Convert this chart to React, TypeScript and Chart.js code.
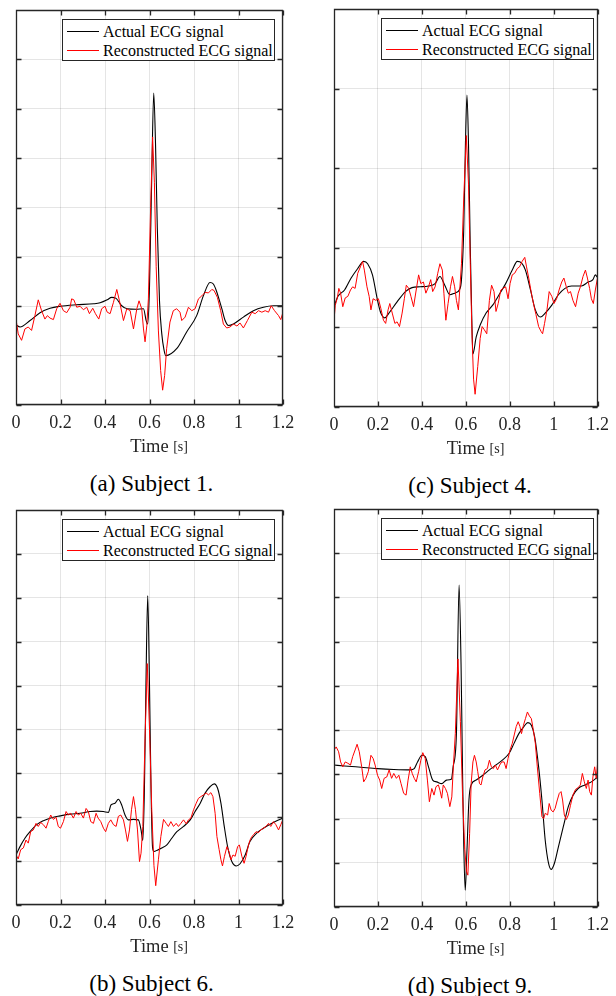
import React, { useEffect, useRef } from "react";
import { Chart, registerables } from "chart.js";

Chart.register(...registerables);

type Pt = [number, number];

const FONT = "'Liberation Serif', 'Times New Roman', Times, serif";
const AXIS_COLOR = "#262626";
const GRID_COLOR = "rgba(38,38,38,0.12)";

const X_TICKS = [0, 0.2, 0.4, 0.6, 0.8, 1, 1.2];
const X_TITLE = "Time";
const X_UNIT = "[s]";
const SERIES_LABELS = ["Actual ECG signal", "Reconstructed ECG signal"];
const CAPTIONS = ["(a) Subject 1.", "(c) Subject 4.", "(b) Subject 6.", "(d) Subject 9."];
const Y_MAX = [8, 5, 9, 9];

// Subject 1
const subject1Actual: Pt[] = [
  [0, 1.62], [0.018, 1.58], [0.063, 1.71], [0.108, 1.87], [0.153, 1.96], [0.198, 2.0], [0.27, 2.03],
  [0.35, 2.05], [0.378, 2.07], [0.41, 2.13], [0.43, 2.18], [0.45, 2.16], [0.475, 2.01], [0.5, 1.95],
  [0.54, 1.94], [0.573, 1.95], [0.585, 1.71], [0.592, 1.64], [0.6, 2.4], [0.61, 4.6], [0.619, 6.32],
  [0.627, 5.3], [0.635, 3.6], [0.645, 2.1], [0.655, 1.45], [0.665, 1.12], [0.673, 1.0], [0.722, 1.14],
  [0.767, 1.48], [0.812, 1.81], [0.842, 2.21], [0.872, 2.48], [0.887, 2.45], [0.9, 2.32], [0.925, 1.95],
  [0.94, 1.71], [0.955, 1.61], [0.977, 1.64], [1.022, 1.78], [1.067, 1.91], [1.112, 1.98], [1.157, 2.01],
  [1.2, 2.01],
];
const subject1Recon: Pt[] = [
  [0, 1.74], [0.01, 1.44], [0.025, 1.31], [0.04, 1.54], [0.055, 1.58], [0.07, 1.51], [0.085, 1.81],
  [0.1, 2.13], [0.115, 1.91], [0.13, 1.74], [0.141, 1.81], [0.153, 1.76], [0.168, 1.73], [0.183, 1.95],
  [0.198, 2.06], [0.213, 1.91], [0.228, 1.87], [0.243, 1.98], [0.25, 2.15], [0.26, 2.13], [0.273, 1.98],
  [0.288, 2.0], [0.303, 1.93], [0.318, 1.98], [0.33, 1.85], [0.345, 1.96], [0.357, 1.85], [0.372, 1.74],
  [0.385, 1.95], [0.4, 2.0], [0.41, 1.88], [0.423, 1.85], [0.438, 2.08], [0.453, 2.34], [0.465, 2.11],
  [0.483, 1.71], [0.498, 1.95], [0.513, 1.91], [0.528, 1.54], [0.543, 1.95], [0.553, 2.11], [0.565, 1.95],
  [0.573, 1.54], [0.58, 1.28], [0.588, 1.61], [0.595, 2.15], [0.605, 4.0], [0.614, 5.43], [0.622, 4.5],
  [0.63, 2.8], [0.64, 1.5], [0.65, 0.7], [0.659, 0.3], [0.668, 0.6], [0.677, 1.14], [0.692, 1.68],
  [0.707, 1.91], [0.722, 1.95], [0.737, 1.88], [0.745, 1.71], [0.76, 1.78], [0.775, 1.98], [0.79, 1.91],
  [0.805, 1.95], [0.82, 2.15], [0.835, 2.21], [0.85, 2.28], [0.865, 2.27], [0.88, 2.34], [0.89, 2.32],
  [0.905, 2.18], [0.92, 1.91], [0.932, 1.64], [0.947, 1.56], [0.962, 1.58], [0.977, 1.64], [0.993, 1.6],
  [1.007, 1.66], [1.022, 1.56], [1.04, 1.71], [1.06, 1.88], [1.075, 1.85], [1.09, 1.91], [1.105, 1.88],
  [1.12, 1.91], [1.135, 1.88], [1.147, 2.01], [1.162, 1.91], [1.18, 1.81], [1.19, 1.73], [1.2, 1.88],
];

// Subject 4
const subject4Actual: Pt[] = [
  [0, 1.26], [0.018, 1.39], [0.048, 1.47], [0.078, 1.62], [0.108, 1.74], [0.135, 1.83], [0.153, 1.8],
  [0.175, 1.66], [0.198, 1.34], [0.213, 1.18], [0.231, 1.12], [0.25, 1.18], [0.287, 1.32], [0.325, 1.45],
  [0.355, 1.5], [0.392, 1.51], [0.43, 1.52], [0.46, 1.55], [0.482, 1.64], [0.504, 1.53], [0.527, 1.41],
  [0.549, 1.43], [0.572, 1.48], [0.58, 1.6], [0.59, 2.2], [0.598, 3.3], [0.605, 3.92], [0.612, 3.3],
  [0.62, 2.0], [0.627, 1.1], [0.632, 0.665], [0.647, 0.88], [0.665, 1.03], [0.692, 1.18], [0.722, 1.28],
  [0.751, 1.41], [0.781, 1.55], [0.811, 1.72], [0.834, 1.83], [0.853, 1.81], [0.871, 1.72], [0.894, 1.47],
  [0.916, 1.22], [0.939, 1.13], [0.961, 1.18], [0.991, 1.28], [1.021, 1.41], [1.051, 1.49], [1.081, 1.52],
  [1.126, 1.52], [1.156, 1.57], [1.178, 1.6], [1.189, 1.66], [1.2, 1.62],
];
const subject4Recon: Pt[] = [
  [0, 1.09], [0.006, 1.28], [0.015, 1.37], [0.022, 1.49], [0.03, 1.43], [0.04, 1.26], [0.051, 1.37],
  [0.063, 1.39], [0.075, 1.47], [0.085, 1.51], [0.096, 1.49], [0.108, 1.68], [0.12, 1.76], [0.13, 1.83],
  [0.138, 1.72], [0.15, 1.51], [0.16, 1.39], [0.168, 1.22], [0.178, 1.36], [0.19, 1.34], [0.202, 1.36],
  [0.213, 1.24], [0.225, 1.09], [0.235, 1.05], [0.246, 1.22], [0.254, 1.3], [0.265, 1.18], [0.277, 1.05],
  [0.287, 1.07], [0.298, 1.01], [0.31, 1.18], [0.32, 1.36], [0.329, 1.53], [0.34, 1.49], [0.35, 1.39],
  [0.362, 1.26], [0.374, 1.47], [0.385, 1.66], [0.395, 1.55], [0.407, 1.57], [0.418, 1.43], [0.43, 1.51],
  [0.44, 1.6], [0.449, 1.45], [0.46, 1.51], [0.472, 1.68], [0.482, 1.8], [0.493, 1.72], [0.5, 1.43],
  [0.509, 1.09], [0.519, 1.3], [0.53, 1.51], [0.539, 1.64], [0.549, 1.51], [0.557, 1.34], [0.566, 1.22],
  [0.572, 1.47], [0.58, 1.8], [0.59, 2.6], [0.602, 3.41], [0.612, 2.8], [0.62, 1.8], [0.628, 0.9],
  [0.635, 0.35], [0.642, 0.16], [0.654, 0.51], [0.665, 0.86], [0.674, 1.01], [0.684, 0.97], [0.695, 0.92],
  [0.707, 1.34], [0.717, 1.53], [0.728, 1.45], [0.737, 1.2], [0.747, 1.3], [0.759, 1.47], [0.769, 1.49],
  [0.781, 1.51], [0.792, 1.36], [0.801, 1.55], [0.811, 1.66], [0.822, 1.68], [0.834, 1.74], [0.844, 1.76],
  [0.856, 1.83], [0.868, 1.88], [0.876, 1.76], [0.886, 1.62], [0.898, 1.43], [0.909, 1.28], [0.919, 1.16],
  [0.931, 1.01], [0.942, 0.95], [0.949, 0.92], [0.958, 1.05], [0.969, 1.22], [0.979, 1.45], [0.991, 1.39],
  [1.001, 1.3], [1.013, 1.36], [1.024, 1.47], [1.036, 1.57], [1.046, 1.62], [1.057, 1.51], [1.066, 1.43],
  [1.076, 1.45], [1.087, 1.34], [1.099, 1.26], [1.111, 1.43], [1.121, 1.51], [1.133, 1.64], [1.144, 1.72],
  [1.153, 1.62], [1.163, 1.49], [1.171, 1.36], [1.18, 1.3], [1.189, 1.47], [1.2, 1.64],
];

// Subject 6
const subject6Actual: Pt[] = [
  [0, 1.14], [0.018, 1.33], [0.04, 1.52], [0.063, 1.67], [0.093, 1.83], [0.123, 1.92], [0.16, 1.99],
  [0.198, 2.03], [0.243, 2.07], [0.288, 2.09], [0.333, 2.13], [0.363, 2.14], [0.393, 2.13], [0.415, 2.11],
  [0.427, 2.28], [0.445, 2.32], [0.46, 2.41], [0.475, 2.28], [0.49, 2.05], [0.505, 1.94], [0.528, 1.95],
  [0.55, 1.94], [0.562, 1.71], [0.57, 1.47], [0.577, 2.6], [0.584, 5.0], [0.592, 7.05], [0.6, 5.0],
  [0.607, 2.6], [0.614, 1.3], [0.62, 1.22], [0.635, 1.25], [0.655, 1.3], [0.678, 1.37], [0.7, 1.52],
  [0.723, 1.67], [0.753, 1.79], [0.783, 1.94], [0.805, 2.13], [0.828, 2.32], [0.85, 2.55], [0.873, 2.7],
  [0.891, 2.76], [0.906, 2.66], [0.921, 2.32], [0.936, 1.79], [0.951, 1.33], [0.97, 0.99], [0.99, 0.89],
  [1.007, 0.94], [1.03, 1.14], [1.052, 1.45], [1.082, 1.64], [1.112, 1.75], [1.142, 1.84], [1.172, 1.92],
  [1.2, 1.98],
];
const subject6Recon: Pt[] = [
  [0, 1.14], [0.01, 1.05], [0.021, 1.26], [0.033, 1.3], [0.045, 1.48], [0.055, 1.41], [0.066, 1.67],
  [0.078, 1.71], [0.09, 1.86], [0.1, 1.79], [0.111, 1.88], [0.123, 1.83], [0.135, 1.75], [0.145, 1.9],
  [0.156, 2.05], [0.168, 1.95], [0.18, 2.0], [0.19, 1.79], [0.2, 1.75], [0.213, 1.9], [0.225, 2.13],
  [0.235, 2.05], [0.246, 2.09], [0.258, 1.98], [0.27, 2.13], [0.28, 2.05], [0.291, 2.09], [0.303, 1.98],
  [0.315, 2.2], [0.325, 2.13], [0.336, 1.9], [0.348, 1.86], [0.36, 2.09], [0.369, 1.98], [0.381, 1.9],
  [0.393, 1.75], [0.403, 1.67], [0.415, 1.86], [0.426, 1.94], [0.438, 1.83], [0.45, 1.79], [0.46, 2.02],
  [0.471, 2.05], [0.483, 1.94], [0.492, 1.71], [0.501, 1.45], [0.51, 1.71], [0.519, 2.17], [0.528, 2.47],
  [0.537, 2.17], [0.546, 1.71], [0.555, 0.99], [0.562, 1.18], [0.57, 1.79], [0.58, 3.8], [0.59, 5.5],
  [0.6, 4.0], [0.61, 2.2], [0.62, 0.9], [0.628, 0.44], [0.64, 1.03], [0.651, 1.56], [0.663, 1.95],
  [0.675, 1.86], [0.685, 1.79], [0.696, 1.9], [0.708, 1.79], [0.72, 1.86], [0.73, 1.79], [0.741, 1.86],
  [0.753, 1.94], [0.765, 1.85], [0.775, 1.94], [0.786, 1.98], [0.798, 2.17], [0.81, 2.32], [0.82, 2.43],
  [0.831, 2.47], [0.843, 2.51], [0.855, 2.55], [0.865, 2.51], [0.876, 2.56], [0.885, 2.47], [0.895, 2.09],
  [0.903, 1.56], [0.913, 1.26], [0.921, 1.03], [0.928, 0.89], [0.937, 1.11], [0.948, 1.33], [0.957, 1.22],
  [0.966, 1.03], [0.975, 1.14], [0.985, 1.11], [0.996, 1.33], [1.004, 1.37], [1.015, 1.11], [1.025, 0.95],
  [1.034, 1.11], [1.045, 1.37], [1.055, 1.52], [1.067, 1.6], [1.079, 1.67], [1.09, 1.65], [1.1, 1.71],
  [1.112, 1.75], [1.124, 1.79], [1.135, 1.86], [1.145, 1.79], [1.157, 1.9], [1.168, 1.83], [1.18, 1.71],
  [1.19, 1.83], [1.2, 1.95],
];

// Subject 9
const subject9Actual: Pt[] = [
  [0, 3.21], [0.048, 3.19], [0.123, 3.16], [0.198, 3.13], [0.272, 3.11], [0.347, 3.1], [0.365, 3.13],
  [0.38, 3.28], [0.4, 3.43], [0.415, 3.4], [0.43, 3.17], [0.449, 2.87], [0.467, 2.83], [0.49, 2.79],
  [0.512, 2.87], [0.534, 2.89], [0.542, 3.17], [0.557, 3.92], [0.569, 7.28], [0.578, 5.5], [0.585, 3.0],
  [0.59, 1.5], [0.597, 0.38], [0.605, 1.29], [0.614, 2.42], [0.624, 2.76], [0.647, 2.87], [0.677, 2.98],
  [0.707, 3.1], [0.737, 3.21], [0.766, 3.32], [0.796, 3.47], [0.819, 3.7], [0.841, 3.92], [0.864, 4.08],
  [0.882, 4.17], [0.898, 4.11], [0.913, 3.85], [0.931, 3.17], [0.946, 2.42], [0.961, 1.51], [0.976, 0.99],
  [0.988, 0.85], [1.003, 0.99], [1.021, 1.36], [1.043, 1.81], [1.066, 2.27], [1.088, 2.53], [1.111, 2.68],
  [1.141, 2.76], [1.171, 2.83], [1.2, 2.94],
];
const subject9Recon: Pt[] = [
  [0, 3.55], [0.01, 3.62], [0.021, 3.51], [0.03, 3.28], [0.04, 3.17], [0.051, 3.28], [0.063, 3.25],
  [0.075, 3.21], [0.085, 3.4], [0.096, 3.55], [0.105, 3.68], [0.115, 3.51], [0.126, 3.17], [0.135, 2.83],
  [0.145, 2.91], [0.156, 3.06], [0.168, 3.43], [0.178, 3.36], [0.187, 3.21], [0.198, 2.98], [0.208, 2.87],
  [0.217, 2.68], [0.228, 2.91], [0.24, 2.94], [0.251, 3.1], [0.262, 2.91], [0.272, 3.02], [0.284, 2.91],
  [0.295, 2.98], [0.305, 2.79], [0.317, 2.57], [0.328, 2.53], [0.337, 2.87], [0.347, 3.17], [0.356, 3.02],
  [0.365, 2.91], [0.374, 2.83], [0.385, 3.06], [0.395, 3.32], [0.404, 3.49], [0.415, 3.36], [0.425, 2.87],
  [0.434, 2.38], [0.445, 2.68], [0.455, 2.53], [0.464, 2.72], [0.475, 2.76], [0.482, 2.64], [0.49, 2.46],
  [0.497, 2.76], [0.507, 2.68], [0.516, 2.57], [0.527, 2.27], [0.536, 2.49], [0.543, 3.17], [0.552, 3.92],
  [0.564, 5.61], [0.575, 4.2], [0.585, 2.5], [0.595, 1.3], [0.603, 0.8], [0.609, 0.72], [0.617, 1.66],
  [0.624, 2.79], [0.632, 3.28], [0.639, 3.43], [0.647, 3.28], [0.654, 3.06], [0.662, 2.79], [0.669, 2.76],
  [0.677, 2.94], [0.687, 3.1], [0.698, 3.13], [0.707, 3.32], [0.716, 3.17], [0.725, 3.13], [0.734, 3.21],
  [0.744, 3.1], [0.754, 3.21], [0.763, 3.28], [0.774, 3.28], [0.783, 3.13], [0.792, 3.36], [0.801, 3.55],
  [0.811, 3.7], [0.82, 3.89], [0.829, 4.08], [0.838, 4.19], [0.846, 4.08], [0.853, 3.92], [0.862, 4.11],
  [0.871, 4.26], [0.88, 4.41], [0.889, 4.32], [0.898, 4.26], [0.907, 4.0], [0.916, 3.7], [0.925, 3.17],
  [0.936, 2.57], [0.946, 2.04], [0.954, 2.0], [0.961, 2.12], [0.972, 2.08], [0.979, 2.34], [0.988, 2.19],
  [0.997, 2.15], [1.006, 2.23], [1.016, 2.42], [1.025, 2.57], [1.033, 2.61], [1.04, 2.42], [1.048, 2.08],
  [1.057, 1.98], [1.066, 2.08], [1.076, 2.3], [1.087, 2.53], [1.099, 2.66], [1.111, 2.7], [1.121, 2.76],
  [1.13, 3.02], [1.139, 2.83], [1.148, 2.68], [1.156, 2.87], [1.163, 2.61], [1.171, 2.53], [1.178, 2.94],
  [1.186, 3.17], [1.193, 2.91], [1.2, 3.28],
];

const ACTUAL = [subject1Actual, subject4Actual, subject6Actual, subject9Actual];
const RECON = [subject1Recon, subject4Recon, subject6Recon, subject9Recon];

// layout (page pixels): canvas origin and plot box for each panel
const CANVAS_W = 308;
const CANVAS_H = 470;
const X_AXIS_H = 51;
const PANELS = [
  { cx: 0, cy: 0, l: 16, t: 10, r: 283, b: 405 },
  { cx: 308, cy: 0, l: 334, t: 9, r: 602, b: 407 },
  { cx: 0, cy: 500, l: 16, t: 510, r: 283, b: 905 },
  { cx: 308, cy: 500, l: 334, t: 509, r: 602, b: 907 },
];

const framePlugin = {
  id: "matlabFrame",
  afterDatasetsDraw(chart: any) {
    const { ctx, chartArea: a, scales } = chart;
    const tl = 5;
    ctx.save();
    ctx.strokeStyle = AXIS_COLOR;
    ctx.lineWidth = 1.3;
    ctx.beginPath();
    const L = Math.round(a.left) + 0.5;
    const R = Math.round(a.right) - 0.5;
    const T = Math.round(a.top) + 0.5;
    const B = Math.round(a.bottom) - 0.5;
    ctx.rect(L, T, R - L, B - T);
    for (const tk of scales.x.ticks) {
      const px = Math.round(scales.x.getPixelForValue(tk.value)) + 0.5;
      ctx.moveTo(px, B);
      ctx.lineTo(px, B - tl);
      ctx.moveTo(px, T);
      ctx.lineTo(px, T + tl);
    }
    for (const tk of scales.y.ticks) {
      const py = Math.round(scales.y.getPixelForValue(tk.value)) + 0.5;
      ctx.moveTo(L, py);
      ctx.lineTo(L + tl, py);
      ctx.moveTo(R, py);
      ctx.lineTo(R - tl, py);
    }
    ctx.stroke();

    // x-axis title: "Time" centred, "[s]" in a smaller size after it
    const cx = (a.left + a.right) / 2;
    const baseY = a.bottom + 46.5;
    ctx.fillStyle = AXIS_COLOR;
    ctx.textBaseline = "alphabetic";
    ctx.textAlign = "left";
    ctx.font = `18.5px ${FONT}`;
    const w1 = ctx.measureText(X_TITLE).width;
    const x1 = cx - w1 / 2;
    ctx.fillText(X_TITLE, x1, baseY);
    ctx.font = `14px ${FONT}`;
    ctx.fillText(X_UNIT, x1 + w1 + 4.5, baseY - 0.5);
    ctx.restore();
  },
};

function Panel({ idx }: { idx: number }) {
  const ref = useRef<HTMLCanvasElement>(null);
  const p = PANELS[idx];
  const yMax = Y_MAX[idx];
  useEffect(() => {
    const yTicks: number[] = [];
    for (let v = 0; v <= yMax; v++) yTicks.push(v);
    const chart = new Chart(ref.current as HTMLCanvasElement, {
      type: "line",
      data: {
        datasets: [
          {
            label: SERIES_LABELS[0],
            data: ACTUAL[idx].map(([x, y]) => ({ x, y })),
            borderColor: "#000000",
            borderWidth: 1.1,
            pointRadius: 0,
            cubicInterpolationMode: "monotone",
            order: 1,
          },
          {
            label: SERIES_LABELS[1],
            data: RECON[idx].map(([x, y]) => ({ x, y })),
            borderColor: "#ff0000",
            borderWidth: 1,
            pointRadius: 0,
            tension: 0,
            order: 0,
          },
        ],
      },
      options: {
        responsive: false,
        animation: false,
        events: [],
        layout: {
          padding: {
            left: p.l - p.cx,
            top: p.t - p.cy,
            right: p.cx + CANVAS_W - p.r,
            bottom: p.cy + CANVAS_H - p.b - X_AXIS_H,
          },
        },
        plugins: { legend: { display: false }, tooltip: { enabled: false } },
        scales: {
          x: {
            type: "linear",
            min: 0,
            max: 1.2,
            afterBuildTicks: (s: any) => {
              s.ticks = X_TICKS.map((v) => ({ value: v }));
            },
            afterFit: (s: any) => {
              s.height = X_AXIS_H;
            },
            grid: { color: GRID_COLOR, drawTicks: false, lineWidth: 1 },
            border: { display: false },
            ticks: {
              padding: 7,
              color: AXIS_COLOR,
              font: { family: FONT, size: 18 },
              maxRotation: 0,
              autoSkip: false,
              callback: (v: any) => String(Math.round(Number(v) * 10) / 10),
            },
            title: { display: false },
          },
          y: {
            type: "linear",
            min: 0,
            max: yMax,
            afterBuildTicks: (s: any) => {
              s.ticks = yTicks.map((v) => ({ value: v }));
            },
            afterFit: (s: any) => {
              s.width = 0;
            },
            grid: { color: GRID_COLOR, drawTicks: false, lineWidth: 1 },
            border: { display: false },
            ticks: { display: false },
          },
        },
      } as any,
      plugins: [framePlugin],
    });
    return () => chart.destroy();
  }, [idx]);

  const legendW = 213;
  const legendLeft = p.r - 8 - legendW - p.cx;
  const legendTop = p.t + 9 - p.cy;
  const rowStyle: React.CSSProperties = {
    display: "flex",
    alignItems: "center",
    height: 19,
    whiteSpace: "nowrap",
  };
  const sample = (color: string): React.CSSProperties => ({
    width: 32,
    height: 0,
    borderTop: `1px solid ${color}`,
    marginLeft: 4,
    marginRight: 4,
  });

  return (
    <div style={{ position: "absolute", left: p.cx, top: p.cy, width: CANVAS_W, height: CANVAS_H }}>
      <canvas ref={ref} width={CANVAS_W} height={CANVAS_H} style={{ display: "block" }} />
      <div
        style={{
          position: "absolute",
          left: legendLeft,
          top: legendTop,
          width: legendW - 2,
          height: 42 - 4,
          border: `1px solid ${AXIS_COLOR}`,
          background: "#ffffff",
          fontFamily: FONT,
          fontSize: 16,
          lineHeight: "19px",
          color: "#000",
          paddingTop: 2,
          boxSizing: "content-box",
        }}
      >
        <div style={rowStyle}>
          <div style={sample("#000000")} />
          <span>{SERIES_LABELS[0]}</span>
        </div>
        <div style={rowStyle}>
          <div style={sample("#ff0000")} />
          <span>{SERIES_LABELS[1]}</span>
        </div>
      </div>
    </div>
  );
}

function Caption({ idx }: { idx: number }) {
  const p = PANELS[idx];
  const center = (p.l + p.r) / 2 + 2;
  const baseline = p.b + 87;
  return (
    <div
      style={{
        position: "absolute",
        left: center - 100,
        width: 200,
        top: baseline - 22,
        textAlign: "center",
        fontFamily: FONT,
        fontSize: 23,
        lineHeight: "27px",
        color: "#000",
        whiteSpace: "nowrap",
      }}
    >
      {CAPTIONS[idx]}
    </div>
  );
}

export default function App() {
  return (
    <div
      style={{
        position: "absolute",
        left: 0,
        top: 0,
        width: 616,
        height: 996,
        background: "#ffffff",
        overflow: "hidden",
      }}
    >
      {[0, 1, 2, 3].map((i) => (
        <Panel key={i} idx={i} />
      ))}
      {[0, 1, 2, 3].map((i) => (
        <Caption key={"c" + i} idx={i} />
      ))}
    </div>
  );
}
